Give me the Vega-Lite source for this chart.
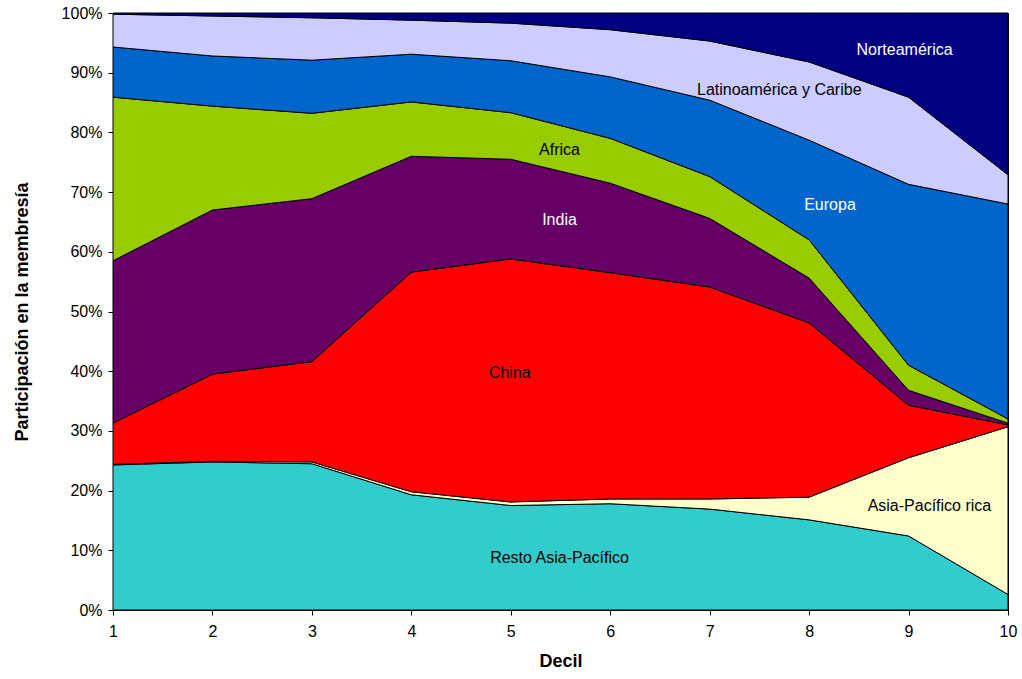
{
  "$schema": "https://vega.github.io/schema/vega-lite/v6.json",
  "autosize": {"type": "none"},
  "width": 895,
  "height": 597,
  "padding": {"left": 113, "top": 13, "right": 14, "bottom": 69},
  "background": "white",
  "config": {
    "font": "Liberation Sans",
    "view": {"stroke": "#000000", "strokeWidth": 1},
    "axis": {
      "labelFont": "Liberation Sans",
      "labelFontSize": 16,
      "labelColor": "#000000",
      "titleFont": "Liberation Sans",
      "titleFontSize": 18,
      "titleFontWeight": "bold",
      "titleColor": "#000000",
      "domainColor": "#000000",
      "tickColor": "#000000",
      "tickSize": 5,
      "labelFlush": false,
      "labelOverlap": false,
      "grid": false
    }
  },
  "datasets": {
    "shares": [
      {"decil": 1, "region": "Resto Asia-Pacífico", "orden": 1, "share": 24.3},
      {"decil": 1, "region": "Asia-Pacífico rica", "orden": 2, "share": 0.1},
      {"decil": 1, "region": "China", "orden": 3, "share": 6.9},
      {"decil": 1, "region": "India", "orden": 4, "share": 27.2},
      {"decil": 1, "region": "Africa", "orden": 5, "share": 27.4},
      {"decil": 1, "region": "Europa", "orden": 6, "share": 8.4},
      {"decil": 1, "region": "Latinoamérica y Caribe", "orden": 7, "share": 5.5},
      {"decil": 1, "region": "Norteamérica", "orden": 8, "share": 0.2},

      {"decil": 2, "region": "Resto Asia-Pacífico", "orden": 1, "share": 24.8},
      {"decil": 2, "region": "Asia-Pacífico rica", "orden": 2, "share": 0.1},
      {"decil": 2, "region": "China", "orden": 3, "share": 14.6},
      {"decil": 2, "region": "India", "orden": 4, "share": 27.5},
      {"decil": 2, "region": "Africa", "orden": 5, "share": 17.4},
      {"decil": 2, "region": "Europa", "orden": 6, "share": 8.4},
      {"decil": 2, "region": "Latinoamérica y Caribe", "orden": 7, "share": 6.7},
      {"decil": 2, "region": "Norteamérica", "orden": 8, "share": 0.5},

      {"decil": 3, "region": "Resto Asia-Pacífico", "orden": 1, "share": 24.5},
      {"decil": 3, "region": "Asia-Pacífico rica", "orden": 2, "share": 0.3},
      {"decil": 3, "region": "China", "orden": 3, "share": 16.8},
      {"decil": 3, "region": "India", "orden": 4, "share": 27.3},
      {"decil": 3, "region": "Africa", "orden": 5, "share": 14.3},
      {"decil": 3, "region": "Europa", "orden": 6, "share": 8.9},
      {"decil": 3, "region": "Latinoamérica y Caribe", "orden": 7, "share": 7.1},
      {"decil": 3, "region": "Norteamérica", "orden": 8, "share": 0.8},

      {"decil": 4, "region": "Resto Asia-Pacífico", "orden": 1, "share": 19.3},
      {"decil": 4, "region": "Asia-Pacífico rica", "orden": 2, "share": 0.5},
      {"decil": 4, "region": "China", "orden": 3, "share": 36.8},
      {"decil": 4, "region": "India", "orden": 4, "share": 19.4},
      {"decil": 4, "region": "Africa", "orden": 5, "share": 9.1},
      {"decil": 4, "region": "Europa", "orden": 6, "share": 8.0},
      {"decil": 4, "region": "Latinoamérica y Caribe", "orden": 7, "share": 5.7},
      {"decil": 4, "region": "Norteamérica", "orden": 8, "share": 1.2},

      {"decil": 5, "region": "Resto Asia-Pacífico", "orden": 1, "share": 17.5},
      {"decil": 5, "region": "Asia-Pacífico rica", "orden": 2, "share": 0.6},
      {"decil": 5, "region": "China", "orden": 3, "share": 40.7},
      {"decil": 5, "region": "India", "orden": 4, "share": 16.7},
      {"decil": 5, "region": "Africa", "orden": 5, "share": 7.8},
      {"decil": 5, "region": "Europa", "orden": 6, "share": 8.7},
      {"decil": 5, "region": "Latinoamérica y Caribe", "orden": 7, "share": 6.3},
      {"decil": 5, "region": "Norteamérica", "orden": 8, "share": 1.7},

      {"decil": 6, "region": "Resto Asia-Pacífico", "orden": 1, "share": 17.8},
      {"decil": 6, "region": "Asia-Pacífico rica", "orden": 2, "share": 0.8},
      {"decil": 6, "region": "China", "orden": 3, "share": 37.9},
      {"decil": 6, "region": "India", "orden": 4, "share": 15.0},
      {"decil": 6, "region": "Africa", "orden": 5, "share": 7.5},
      {"decil": 6, "region": "Europa", "orden": 6, "share": 10.3},
      {"decil": 6, "region": "Latinoamérica y Caribe", "orden": 7, "share": 7.9},
      {"decil": 6, "region": "Norteamérica", "orden": 8, "share": 2.8},

      {"decil": 7, "region": "Resto Asia-Pacífico", "orden": 1, "share": 16.9},
      {"decil": 7, "region": "Asia-Pacífico rica", "orden": 2, "share": 1.7},
      {"decil": 7, "region": "China", "orden": 3, "share": 35.5},
      {"decil": 7, "region": "India", "orden": 4, "share": 11.5},
      {"decil": 7, "region": "Africa", "orden": 5, "share": 7.0},
      {"decil": 7, "region": "Europa", "orden": 6, "share": 12.8},
      {"decil": 7, "region": "Latinoamérica y Caribe", "orden": 7, "share": 9.9},
      {"decil": 7, "region": "Norteamérica", "orden": 8, "share": 4.7},

      {"decil": 8, "region": "Resto Asia-Pacífico", "orden": 1, "share": 15.1},
      {"decil": 8, "region": "Asia-Pacífico rica", "orden": 2, "share": 3.8},
      {"decil": 8, "region": "China", "orden": 3, "share": 29.2},
      {"decil": 8, "region": "India", "orden": 4, "share": 7.5},
      {"decil": 8, "region": "Africa", "orden": 5, "share": 6.4},
      {"decil": 8, "region": "Europa", "orden": 6, "share": 16.7},
      {"decil": 8, "region": "Latinoamérica y Caribe", "orden": 7, "share": 13.1},
      {"decil": 8, "region": "Norteamérica", "orden": 8, "share": 8.2},

      {"decil": 9, "region": "Resto Asia-Pacífico", "orden": 1, "share": 12.4},
      {"decil": 9, "region": "Asia-Pacífico rica", "orden": 2, "share": 13.1},
      {"decil": 9, "region": "China", "orden": 3, "share": 8.8},
      {"decil": 9, "region": "India", "orden": 4, "share": 2.5},
      {"decil": 9, "region": "Africa", "orden": 5, "share": 4.2},
      {"decil": 9, "region": "Europa", "orden": 6, "share": 30.3},
      {"decil": 9, "region": "Latinoamérica y Caribe", "orden": 7, "share": 14.6},
      {"decil": 9, "region": "Norteamérica", "orden": 8, "share": 14.1},

      {"decil": 10, "region": "Resto Asia-Pacífico", "orden": 1, "share": 2.6},
      {"decil": 10, "region": "Asia-Pacífico rica", "orden": 2, "share": 28.1},
      {"decil": 10, "region": "China", "orden": 3, "share": 0.3},
      {"decil": 10, "region": "India", "orden": 4, "share": 0.3},
      {"decil": 10, "region": "Africa", "orden": 5, "share": 0.7},
      {"decil": 10, "region": "Europa", "orden": 6, "share": 36.0},
      {"decil": 10, "region": "Latinoamérica y Caribe", "orden": 7, "share": 4.9},
      {"decil": 10, "region": "Norteamérica", "orden": 8, "share": 27.1}
    ],
    "labels": [
      {"label": "Norteamérica", "decil": 8.96, "pct": 93.8},
      {"label": "Latinoamérica y Caribe", "decil": 7.70, "pct": 87.1},
      {"label": "Africa", "decil": 5.49, "pct": 77.1},
      {"label": "India", "decil": 5.49, "pct": 65.3},
      {"label": "Europa", "decil": 8.21, "pct": 67.8},
      {"label": "China", "decil": 4.99, "pct": 39.7},
      {"label": "Asia-Pacífico rica", "decil": 9.21, "pct": 17.4},
      {"label": "Resto Asia-Pacífico", "decil": 5.49, "pct": 8.7}
    ]
  },
  "layer": [
    {
      "data": {"name": "shares"},
      "mark": {"type": "area", "stroke": "#000000", "strokeWidth": 1, "opacity": 1, "fillOpacity": 1},
      "encoding": {
        "x": {
          "field": "decil", "type": "quantitative",
          "scale": {"domain": [1, 10], "nice": false, "zero": false},
          "axis": {"values": [1,2,3,4,5,6,7,8,9,10], "title": "Decil", "labelPadding": 8, "titlePadding": 13, "format": "d"}
        },
        "y": {
          "field": "share", "type": "quantitative", "stack": "zero",
          "scale": {"domain": [0, 100], "nice": false},
          "axis": {"values": [0,10,20,30,40,50,60,70,80,90,100], "labelExpr": "datum.value + '%'", "title": "Participación en la membresía", "labelPadding": 6, "titlePadding": 30}
        },
        "order": {"field": "orden", "type": "quantitative"},
        "color": {
          "field": "region", "type": "nominal", "legend": null,
          "scale": {
            "domain": ["Resto Asia-Pacífico", "Asia-Pacífico rica", "China", "India", "Africa", "Europa", "Latinoamérica y Caribe", "Norteamérica"],
            "range": ["#33CCCC", "#FFFFCC", "#FF0000", "#660066", "#99CC00", "#0066CC", "#CCCCFF", "#000080"]
          }
        }
      }
    },
    {
      "data": {"name": "labels"},
      "mark": {"type": "text", "font": "Liberation Sans", "fontSize": 16, "align": "center", "baseline": "middle"},
      "encoding": {
        "x": {"field": "decil", "type": "quantitative"},
        "y": {"field": "pct", "type": "quantitative"},
        "text": {"field": "label"},
        "color": {
          "condition": {"test": "datum.label === 'Norteamérica' || datum.label === 'India' || datum.label === 'Europa'", "value": "#FFFFFF"},
          "value": "#000000"
        }
      }
    }
  ]
}
